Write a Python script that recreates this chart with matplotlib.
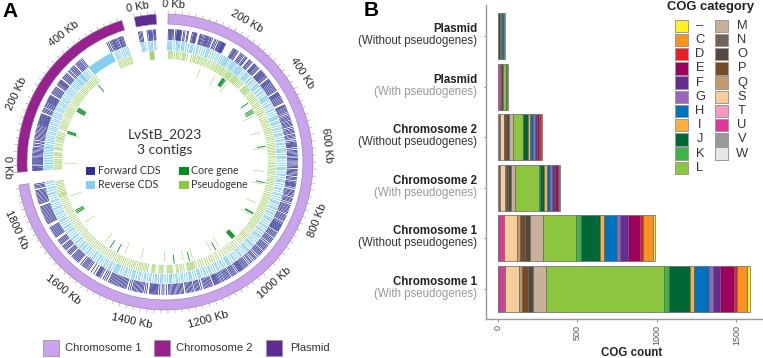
import numpy as np
import matplotlib
matplotlib.use('Agg')
import matplotlib.pyplot as plt
from matplotlib.patches import Rectangle

W, H = 763, 358
plt.rcParams['font.family'] = ['Liberation Sans', 'DejaVu Sans']

# contigs of panel A
contig_names = ['Chromosome 1', 'Chromosome 2', 'Plasmid']
contig_kb = [1930, 572, 63]
contig_start_deg = [1.2, 266, 348]
contig_colors = ['#c9a3ec', '#97218f', '#5e2d91']
contig_labels = [[200, 400, 600, 800, 1000, 1200, 1400, 1600, 1800], [200, 400], []]

# gene positions in Kb
fwd_c1 = [2, 6, 9, 12, 15, 19, 26, 30, 32, 34, 36, 38, 40, 42, 45, 52, 56, 64, 67, 80, 84, 87, 90, 92, 95,
          106, 109, 112, 116, 120, 124, 127, 130, 133, 136, 140, 143, 147, 155, 159, 164, 170, 173, 176, 179,
          182, 184, 186, 188, 190, 193, 222, 226, 229, 232, 236, 240, 250, 254, 258, 262, 268, 272, 275, 285,
          288, 292, 296, 305, 308, 311, 314, 318, 322, 326, 335, 338, 341, 344, 347, 350, 353, 356, 360, 364,
          372, 375, 378, 381, 384, 388, 392, 396, 400, 404, 408, 412, 416, 424, 427, 430, 433, 436, 440, 444,
          448, 452, 456, 460, 470, 473, 476, 480, 484, 488, 492, 497, 503, 508, 512, 516, 520, 525, 529, 533,
          537, 541, 547, 552, 556, 560, 564, 570, 574, 578, 583, 590, 595, 598, 601, 604, 607, 610, 616, 622,
          626, 630, 634, 638, 643, 648, 652, 656, 660, 666, 670, 674, 678, 684, 688, 692, 696, 700, 704, 710,
          714, 718, 724, 728, 731, 734, 737, 740, 745, 752, 756, 760, 764, 768, 772, 778, 782, 786, 790, 796,
          802, 806, 810, 814, 818, 822, 826, 830, 836, 840, 844, 848, 852, 856, 862, 866, 870, 873, 876, 879,
          882, 885, 888, 891, 894, 900, 904, 908, 912, 916, 922, 926, 930, 934, 938, 944, 950, 954, 958, 962,
          966, 970, 976, 980, 984, 988, 992, 998, 1004, 1008, 1012, 1018, 1024, 1028, 1034, 1040, 1044, 1048,
          1052, 1056, 1060, 1063, 1066, 1069, 1072, 1075, 1080, 1086, 1090, 1094, 1098, 1102, 1108, 1112, 1116,
          1120, 1124, 1128, 1133, 1137, 1142, 1146, 1150, 1153, 1156, 1159, 1162, 1165, 1172, 1176, 1180, 1184,
          1188, 1192, 1196, 1200, 1208, 1214, 1218, 1222, 1226, 1230, 1236, 1240, 1244, 1248, 1252, 1256, 1260,
          1268, 1272, 1276, 1280, 1284, 1288, 1292, 1296, 1300, 1304, 1308, 1312, 1316, 1324, 1332, 1338, 1346,
          1352, 1355, 1358, 1361, 1364, 1367, 1370, 1373, 1376, 1379, 1388, 1394, 1400, 1404, 1408, 1412, 1416,
          1420, 1424, 1428, 1432, 1436, 1442, 1448, 1456, 1460, 1464, 1468, 1472, 1476, 1480, 1484, 1488, 1492,
          1496, 1500, 1504, 1508, 1512, 1516, 1524, 1530, 1536, 1545, 1550, 1553, 1556, 1559, 1562, 1570, 1580,
          1590, 1595, 1600, 1604, 1608, 1612, 1616, 1622, 1632, 1636, 1640, 1644, 1648, 1652, 1656, 1660, 1668,
          1672, 1676, 1680, 1688, 1692, 1696, 1700, 1704, 1712, 1716, 1720, 1724, 1728, 1740, 1744, 1748, 1752,
          1756, 1760, 1764, 1768, 1772, 1776, 1790, 1794, 1798, 1802, 1806, 1810, 1814, 1818, 1822, 1826, 1830,
          1834, 1838, 1842, 1846, 1850, 1860, 1864, 1868, 1872, 1876, 1880, 1884, 1888, 1892, 1896, 1900, 1904,
          1912, 1916, 1920, 1925]
rev_c1 = [1, 5, 8, 12, 16, 24, 32, 36, 40, 44, 52, 56, 60, 68, 76, 84, 88, 92, 100, 108, 112, 120, 128, 136,
          144, 148, 152, 160, 168, 176, 184, 190, 198, 204, 210, 214, 218, 222, 226, 230, 238, 244, 248, 252,
          256, 262, 268, 272, 276, 280, 284, 288, 296, 304, 308, 312, 316, 320, 328, 332, 340, 344, 352, 360,
          364, 368, 372, 380, 384, 392, 396, 404, 412, 416, 420, 424, 428, 436, 444, 448, 456, 464, 468, 476,
          484, 492, 496, 500, 504, 512, 516, 520, 528, 536, 540, 548, 556, 560, 564, 572, 580, 584, 592, 596,
          604, 612, 616, 620, 624, 632, 640, 644, 648, 656, 664, 672, 680, 684, 688, 696, 704, 708, 716, 724,
          728, 732, 740, 748, 756, 760, 768, 776, 780, 788, 796, 804, 808, 812, 820, 828, 832, 840, 848, 852,
          860, 868, 872, 876, 884, 892, 900, 904, 912, 920, 924, 932, 940, 944, 948, 956, 964, 972, 980, 984,
          988, 996, 1004, 1008, 1012, 1020, 1028, 1036, 1040, 1048, 1056, 1064, 1068, 1076, 1084, 1088, 1092,
          1096, 1104, 1112, 1116, 1124, 1132, 1136, 1144, 1152, 1160, 1164, 1172, 1180, 1184, 1192, 1200, 1204,
          1208, 1216, 1224, 1232, 1236, 1240, 1248, 1256, 1264, 1268, 1276, 1284, 1288, 1296, 1304, 1308, 1312,
          1320, 1328, 1336, 1340, 1344, 1352, 1360, 1364, 1372, 1380, 1384, 1392, 1400, 1404, 1412, 1420, 1424,
          1432, 1440, 1444, 1448, 1456, 1464, 1472, 1476, 1484, 1492, 1500, 1504, 1508, 1512, 1516, 1524, 1532,
          1536, 1544, 1552, 1556, 1564, 1572, 1580, 1584, 1592, 1600, 1604, 1612, 1620, 1628, 1632, 1640, 1648,
          1652, 1660, 1664, 1672, 1680, 1684, 1692, 1700, 1704, 1712, 1720, 1728, 1732, 1740, 1748, 1752, 1760,
          1768, 1776, 1780, 1788, 1796, 1804, 1808, 1816, 1824, 1828, 1836, 1844, 1852, 1856, 1864, 1872, 1880,
          1884, 1892, 1900, 1904, 1912, 1920, 1926]
pseudo_c1 = [4, 8, 12, 16, 20, 28, 36, 40, 46, 52, 60, 64, 68, 72, 80, 96, 102, 108, 112, 118, 124, 128, 134,
             140, 146, 152, 158, 166, 172, 180, 186, 192, 198, 204, 208, 214, 218, 224, 228, 232, 238, 244, 250,
             254, 258, 262, 266, 270, 276, 280, 284, 288, 292, 296, 300, 306, 312, 318, 324, 336, 340, 344, 348,
             352, 356, 360, 366, 374, 380, 386, 392, 398, 404, 410, 418, 424, 430, 438, 446, 452, 458, 462, 470,
             480, 488, 494, 500, 506, 512, 518, 526, 532, 538, 544, 552, 560, 566, 572, 580, 588, 594, 600, 606,
             612, 618, 624, 630, 638, 644, 652, 660, 666, 672, 678, 684, 690, 696, 702, 708, 716, 724, 730, 736,
             742, 748, 756, 762, 768, 774, 782, 790, 796, 802, 808, 814, 820, 826, 832, 838, 844, 850, 856, 862,
             870, 876, 882, 888, 894, 900, 906, 912, 918, 924, 930, 936, 944, 952, 960, 968, 974, 980, 986, 994,
             1002, 1010, 1022, 1030, 1038, 1046, 1054, 1062, 1072, 1080, 1090, 1100, 1112, 1120, 1130, 1138, 1146,
             1156, 1164, 1176, 1184, 1192, 1204, 1212, 1216, 1220, 1224, 1228, 1232, 1236, 1240, 1254, 1262, 1268,
             1276, 1280, 1284, 1300, 1304, 1308, 1312, 1316, 1320, 1336, 1340, 1344, 1348, 1352, 1368, 1372, 1376,
             1380, 1396, 1402, 1408, 1414, 1420, 1426, 1432, 1440, 1448, 1454, 1460, 1468, 1476, 1484, 1492, 1500,
             1508, 1514, 1520, 1528, 1536, 1544, 1552, 1560, 1568, 1576, 1584, 1592, 1600, 1608, 1616, 1624, 1632,
             1640, 1648, 1656, 1664, 1672, 1680, 1688, 1696, 1704, 1712, 1720, 1728, 1736, 1744, 1752, 1760, 1768,
             1776, 1784, 1792, 1800, 1808, 1816, 1824, 1832, 1840, 1848, 1856, 1862, 1866, 1870, 1874, 1880, 1886,
             1892, 1898, 1904, 1910, 1916, 1922]
core_c1 = [248, 251, 254, 257, 262, 397, 430, 437, 444, 593, 747, 883, 887, 1007, 1010, 1013, 1016, 1019, 1022,
           1105, 1225, 1290, 1536, 1571, 1774, 1780, 1786]
thin_c1 = [145, 215, 275, 455, 530, 600, 700, 755, 840, 895, 1085, 1125, 1210, 1250, 1330, 1432, 1505, 1600, 1720,
           1850]

fwd_c2 = [2, 5, 8, 12, 15, 20, 24, 27, 30, 33, 36, 39, 42, 46, 50, 54, 58, 62, 66, 70, 74, 78, 84, 88, 94, 98,
          104, 108, 112, 116, 120, 124, 128, 132, 136, 140, 144, 148, 152, 155, 158, 161, 164, 167, 170, 173,
          176, 179, 182, 185, 188, 196, 200, 204, 208, 214, 218, 222, 226, 230, 233, 236, 239, 242, 245, 248,
          251, 254, 262, 266, 270, 274, 278, 282, 286, 294, 298, 302, 305, 308, 311, 314, 322, 326, 330, 334,
          338, 342, 350, 354, 360, 364, 368, 372, 376, 384, 388, 392, 396, 400, 405, 410, 505, 510, 516, 520,
          524, 527, 530, 533, 537, 541, 546, 549, 552, 556, 560]
rev_c2 = [3, 8, 12, 18, 24, 30, 36, 42, 48, 54, 60, 66, 72, 78, 82, 86, 92, 100, 106, 112, 118, 124, 132, 138,
          146, 152, 158, 166, 172, 180, 186, 194, 200, 206, 212, 220, 226, 232, 240, 246, 252, 260, 266, 272,
          280, 288, 294, 300, 306, 312, 320, 326, 332, 338, 344, 352, 358, 364, 372, 380, 386, 392, 400, 515,
          520, 526, 532, 540, 546, 552, 558, 564]
rev_blocks_c2 = [[348, 354], [366, 376], [409, 505]]
pseudo_c2 = [2, 6, 10, 16, 22, 26, 30, 34, 40, 48, 54, 58, 62, 66, 78, 82, 86, 94, 100, 108, 114, 120, 124, 128,
             134, 140, 146, 160, 166, 172, 178, 184, 190, 196, 204, 212, 218, 224, 230, 236, 242, 248, 254, 262,
             270, 276, 282, 288, 294, 300, 306, 312, 318, 326, 332, 338, 344, 350, 358, 364, 370, 376, 382, 390,
             396, 402, 410, 512, 518, 524, 530, 536, 542, 548, 554, 560, 565]
core_c2 = [152, 156, 160, 252, 256, 260, 264, 268, 394]
thin_c2 = [24, 148]

fwd_pl = [3, 7, 11, 15, 31, 36, 38, 41, 44, 47, 52, 55, 58]
rev_pl = [4, 9, 13, 19, 30, 35, 40, 44, 52, 56]
pseudo_pl = [30, 32, 34, 36, 38, 40, 42, 44, 46]

# COG counts, stacked left to right
cog_order = ['W', 'V', 'U', 'T', 'S', 'Q', 'P', 'O', 'N', 'M', 'L', 'K', 'J', 'I', 'H', 'G', 'F', 'E', 'D', 'C', '–']
chr1_with = [2, 6, 27, 10, 86, 19, 38, 30, 2, 84, 738, 36, 128, 29, 90, 27, 46, 86, 19, 65, 15]
chr1_without = [2, 6, 27, 4, 82, 17, 31, 32, 2, 80, 207, 31, 119, 27, 84, 19, 46, 78, 19, 63, 13]
chr2_with = [0, 4, 8, 3, 29, 8, 12, 17, 2, 25, 151, 6, 27, 19, 19, 10, 17, 19, 8, 8, 0]
chr2_without = [0, 4, 6, 0, 27, 0, 15, 17, 0, 27, 61, 2, 29, 13, 19, 13, 15, 13, 8, 10, 0]
plasmid_with = [0, 0, 14, 0, 0, 8, 0, 8, 0, 0, 18, 0, 0, 0, 8, 0, 0, 0, 0, 0, 9]
plasmid_without = [0, 0, 0, 0, 0, 0, 0, 12, 0, 0, 8, 0, 8, 0, 8, 0, 0, 0, 0, 0, 6]
bar_series = [chr1_with, chr1_without, chr2_with, chr2_without, plasmid_with, plasmid_without]
bar_names = ['Chromosome 1', 'Chromosome 1', 'Chromosome 2', 'Chromosome 2', 'Plasmid', 'Plasmid']
bar_notes = ['(With pseudogenes)', '(Without pseudogenes)'] * 3

cog_colors = {'–': '#fff21f', 'C': '#f7931e', 'D': '#ed1c24', 'E': '#9e005d', 'F': '#662d91', 'G': '#9966bb',
              'H': '#0071bc', 'I': '#fbb03b', 'J': '#006837', 'K': '#39b54a', 'L': '#8cc63f', 'M': '#c7b299',
              'N': '#736357', 'O': '#534741', 'P': '#754c24', 'Q': '#c49a6c', 'S': '#f6cd9b', 'T': '#f49ac1',
              'U': '#e5359b', 'V': '#999999', 'W': '#e6e6e6'}
legend_col1 = ['–', 'C', 'D', 'E', 'F', 'G', 'H', 'I', 'J', 'K', 'L']
legend_col2 = ['M', 'N', 'O', 'P', 'Q', 'S', 'T', 'U', 'V', 'W']

DEG_PER_KB = 0.1346


def to_theta(contig, kb):
    return np.radians(contig_start_deg[contig] + np.asarray(kb, dtype=float) * DEG_PER_KB)


def add_box(fig, x0, y0, x1, y1, color, edge='none', lw=0):
    # x/y are image pixels counted from the top left
    fig.add_artist(Rectangle((x0 / W, 1 - y1 / H), (x1 - x0) / W, (y1 - y0) / H, transform=fig.transFigure,
                             facecolor=color, edgecolor=edge, linewidth=lw))


def add_text(fig, x, y, s, **kw):
    kw.setdefault('ha', 'left')
    kw.setdefault('va', 'center')
    fig.text(x / W, 1 - y / H, s, **kw)


fig = plt.figure(figsize=(W / 100, H / 100), dpi=100)

# panel A, r is in pixels because the axes are 320 px wide for rmax 160
ax = fig.add_axes([5 / W, 36 / H, 320 / W, 320 / H], projection='polar')
ax.set_theta_zero_location('N')
ax.set_theta_direction(-1)
ax.set_ylim(0, 160)
ax.axis('off')

tracks = [
    (0, fwd_c1, rev_c1, pseudo_c1, core_c1, thin_c1),
    (1, fwd_c2, rev_c2, pseudo_c2, core_c2, thin_c2),
    (2, fwd_pl, rev_pl, pseudo_pl, [], []),
]
for c, fwd, rev, pseudo, core, thin in tracks:
    ax.bar(to_theta(c, 0), 10, width=np.radians(contig_kb[c] * DEG_PER_KB), bottom=138, align='edge',
           color=contig_colors[c], edgecolor='#8a7f95', linewidth=0.4)
    ticks = np.arange(0, contig_kb[c], 20)
    ax.vlines(to_theta(c, ticks), 148, 151.5, color='#aaaaaa', lw=0.5)
    ax.vlines(to_theta(c, fwd), 122, 133, color='#2e3192', lw=0.55)
    ax.vlines(to_theta(c, rev), 112, 121.5, color='#84cfee', lw=0.65)
    ax.vlines(to_theta(c, pseudo), 103, 111.5, color='#8dc63f', lw=0.5, alpha=0.8)
    if len(thin):
        ax.vlines(to_theta(c, thin), 89, 100, color='#8dc63f', lw=0.45, alpha=0.7)
    if len(core):
        ax.vlines(to_theta(c, core), 93, 102, color='#008c1e', lw=0.6)
for b in rev_blocks_c2:
    ax.bar(to_theta(1, b[0]), 9.5, width=np.radians((b[1] - b[0]) * DEG_PER_KB), bottom=112, align='edge',
           color='#84cfee', linewidth=0)

for c in range(3):
    for kb in [0] + contig_labels[c]:
        deg = contig_start_deg[c] + kb * DEG_PER_KB + 2.0
        rot = -deg if (deg < 90 or deg > 270) else 180 - deg
        ax.text(np.radians(deg), 157.5 if kb == 0 else 163, '%d Kb' % kb, rotation=rot, rotation_mode='anchor',
                ha='center', va='center', fontsize=8, color='#222222', clip_on=False)

add_text(fig, 164.5, 134, 'LvStB_2023', ha='center', fontsize=10, family='Lato', color='#333333')
add_text(fig, 164.5, 150, '3 contigs', ha='center', fontsize=10, family='Lato', color='#333333')
add_box(fig, 86, 167, 95, 175, '#2e3192')
add_box(fig, 86, 181, 95, 189, '#84cfee')
add_box(fig, 179, 167, 189, 175, '#008c1e')
add_box(fig, 179, 181, 189, 189, '#8dc63f')
add_text(fig, 98, 171, 'Forward CDS', fontsize=7.6, family='Lato', color='#333333')
add_text(fig, 98, 185, 'Reverse CDS', fontsize=7.6, family='Lato', color='#333333')
add_text(fig, 191, 171, 'Core gene', fontsize=7.6, family='Lato', color='#333333')
add_text(fig, 191, 185, 'Pseudogene', fontsize=7.6, family='Lato', color='#333333')

for x0, x_txt, name, col in zip([43, 154, 266], [65, 176, 290], contig_names, contig_colors):
    add_box(fig, x0, 340, x0 + 16, 356, col, edge='#999999', lw=0.6)
    add_text(fig, x_txt, 348, name, fontsize=8, color='#333333')

add_text(fig, 2, 11.5, 'A', fontsize=15, fontweight='bold', color='black')
add_text(fig, 364, 11, 'B', fontsize=15, fontweight='bold', color='black')

# panel B
ax2 = fig.add_axes([486 / W, (H - 319) / H, (W - 486) / W, 314 / H])
ax2.set_xlim(-75.5, 1667)
ax2.set_ylim(-0.593, 5.613)
for i, values in enumerate(bar_series):
    left = 0
    for cat, val in zip(cog_order, values):
        if val > 0:
            ax2.barh(i, val, left=left, height=0.91, color=cog_colors[cat], edgecolor='#666666', linewidth=0.5)
        left += val
    ax2.annotate(bar_names[i], xy=(0, i), xycoords=('axes fraction', 'data'), xytext=(-9, 7),
                 textcoords='offset pixels', ha='right', va='center', fontsize=8.3, fontweight='bold', color='#222222')
    note_color = '#999999' if 'With ' in bar_notes[i] else '#333333'
    ax2.annotate(bar_notes[i], xy=(0, i), xycoords=('axes fraction', 'data'), xytext=(-9, -5),
                 textcoords='offset pixels', ha='right', va='center', fontsize=8.3, color=note_color)

for s in ['top', 'right']:
    ax2.spines[s].set_visible(False)
for s in ['left', 'bottom']:
    ax2.spines[s].set_color('#999999')
    ax2.spines[s].set_linewidth(1.0)
ax2.set_yticks(range(6))
ax2.set_yticklabels([])
ax2.set_xticks([0, 500, 1000, 1500])
ax2.tick_params(axis='x', labelrotation=90, labelsize=6.5, labelcolor='#555555', color='#999999', length=2.5, pad=1.5)
ax2.tick_params(axis='y', color='#999999', length=1.5)
add_text(fig, 632, 352.5, 'COG count', ha='center', fontsize=8.3, fontweight='bold', color='#222222')

# COG legend
add_text(fig, 711, 7, 'COG category', ha='center', fontsize=9.4, fontweight='bold', color='#222222')
for col, x0, x_txt in [(legend_col1, 675, 700), (legend_col2, 715, 742)]:
    for j, cat in enumerate(col):
        y0 = 19.5 + j * 14.2
        add_box(fig, x0, y0, x0 + 12.5, y0 + 12.5, cog_colors[cat], edge='#999999', lw=0.7)
        add_text(fig, x_txt, y0 + 6.3, cat, ha='center', fontsize=9.3, color='#333333')

fig.savefig('out.png', dpi=100)
